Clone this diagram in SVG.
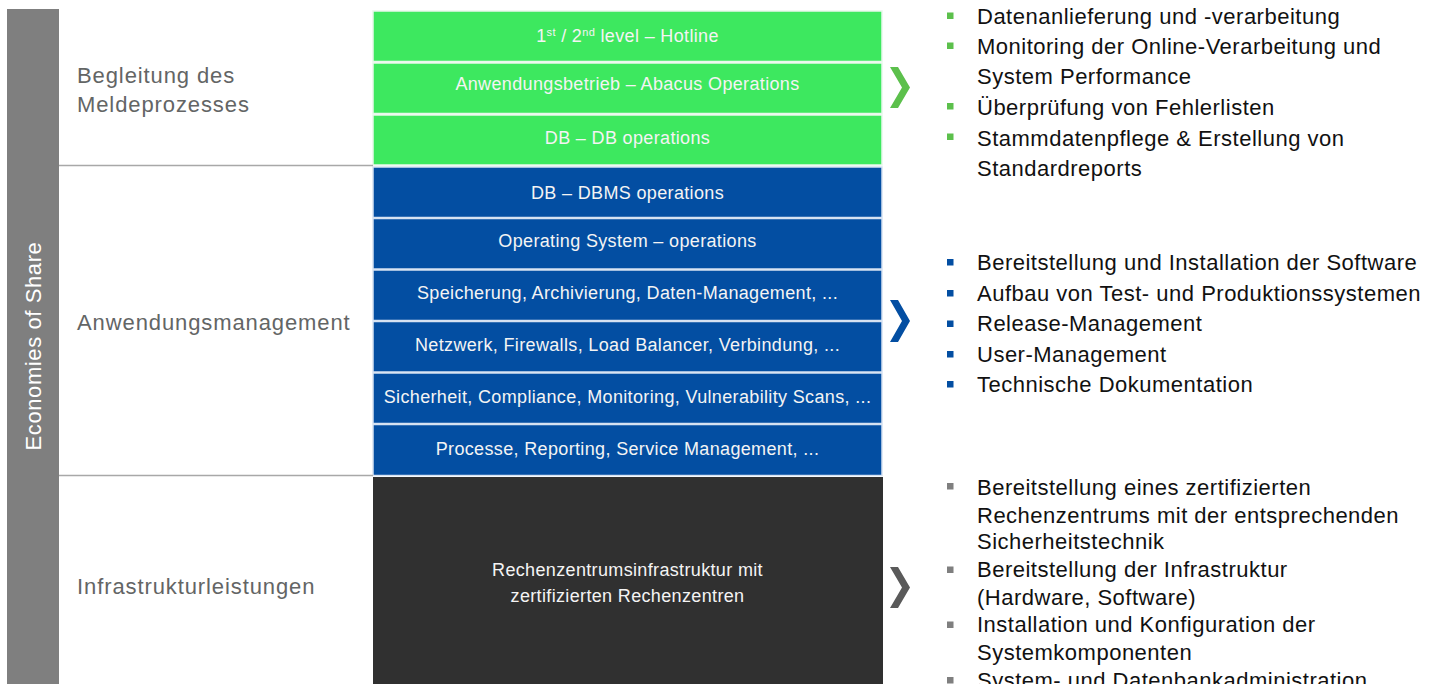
<svg xmlns="http://www.w3.org/2000/svg" width="1438" height="684" viewBox="0 0 1438 684">
<style>
.lbl{font-family:"Liberation Sans",Arial,sans-serif;font-size:22px;letter-spacing:0.9px;fill:#636565}
.blk{font-family:"Liberation Sans",Arial,sans-serif;font-size:18px;letter-spacing:0.35px;fill:#f4f4f4;text-anchor:middle}
.li{font-family:"Liberation Sans",Arial,sans-serif;font-size:22px;letter-spacing:0.5px;fill:#111}
.g{fill:#3de85f;stroke:#e8f8ec;stroke-width:1.5}
.b{fill:#034ea2;stroke:#d6e2f2;stroke-width:1.5}
.d{fill:#303030}
.sep{stroke:#a8a8a8;stroke-width:1.5}
.bg{fill:#5cc04c}
.bb{fill:#034ea2}
.bk{fill:#7f7f7f}
</style>
<rect width="1438" height="684" fill="#fff"/>
<g id="side">
<rect x="7" y="9" width="52" height="675" fill="#7f7f7f"/>
<text transform="translate(41,346) rotate(-90)" text-anchor="middle" style="font-family:'Liberation Sans',Arial,sans-serif;font-size:22px;letter-spacing:0.6px;fill:#fff">Economies of Share</text>
</g>
<g id="labels">
<text class="lbl" x="77" y="83">Begleitung des</text>
<text class="lbl" x="77" y="112">Meldeprozesses</text>
<text class="lbl" x="77" y="330">Anwendungsmanagement</text>
<text class="lbl" x="77" y="594">Infrastrukturleistungen</text>
</g>
<g id="green-stack">
<rect class="g" x="373" y="11" width="509" height="50.5"/>
<rect class="g" x="373" y="63" width="509" height="50.5"/>
<rect class="g" x="373" y="115" width="509" height="50"/>
<text class="blk" x="627.5" y="42">1<tspan font-size="11" dy="-6">st</tspan><tspan dy="6"> / 2</tspan><tspan font-size="11" dy="-6">nd</tspan><tspan dy="6"> level – Hotline</tspan></text>
<text class="blk" x="627.5" y="90">Anwendungsbetrieb – Abacus Operations</text>
<text class="blk" x="627.5" y="144">DB – DB operations</text>
</g>
<g id="blue-stack">
<rect class="b" x="373" y="167" width="509" height="50.5"/>
<rect class="b" x="373" y="218.5" width="509" height="50.5"/>
<rect class="b" x="373" y="270" width="509" height="50.5"/>
<rect class="b" x="373" y="321.5" width="509" height="50.5"/>
<rect class="b" x="373" y="373" width="509" height="50.5"/>
<rect class="b" x="373" y="424.5" width="509" height="51"/>
<text class="blk" x="627.5" y="199">DB – DBMS operations</text>
<text class="blk" x="627.5" y="247">Operating System – operations</text>
<text class="blk" x="627.5" y="299">Speicherung, Archivierung, Daten-Management, ...</text>
<text class="blk" x="627.5" y="351">Netzwerk, Firewalls, Load Balancer, Verbindung, ...</text>
<text class="blk" x="627.5" y="403">Sicherheit, Compliance, Monitoring, Vulnerability Scans, ...</text>
<text class="blk" x="627.5" y="455">Processe, Reporting, Service Management, ...</text>
</g>
<g id="dark-stack">
<rect class="d" x="373" y="477" width="510" height="207"/>
<text class="blk" x="627.5" y="576">Rechenzentrumsinfrastruktur mit</text>
<text class="blk" x="627.5" y="602">zertifizierten Rechenzentren</text>
</g>
<g id="connectors">
<line class="sep" x1="59" y1="165.5" x2="373" y2="165.5"/>
<line class="sep" x1="59" y1="475.5" x2="373" y2="475.5"/>
<polygon points="890,67 898,67 910,87.5 898,108 890,108 902,87.5" fill="#5cc04c"/>
<polygon points="890,300 898,300 910,321 898,342 890,342 902,321" fill="#034ea2"/>
<polygon points="890,567 898,567 910,587.5 898,608 890,608 902,587.5" fill="#5a5a5a"/>
</g>
<g id="list-green">
<rect class="bg" x="947" y="12.5" width="6.5" height="6.5"/>
<rect class="bg" x="947" y="42.5" width="6.5" height="6.5"/>
<rect class="bg" x="947" y="103" width="6.5" height="6.5"/>
<rect class="bg" x="947" y="133.5" width="6.5" height="6.5"/>
<text class="li" x="977" y="23.5">Datenanlieferung und -verarbeitung</text>
<text class="li" x="977" y="54">Monitoring der Online-Verarbeitung und</text>
<text class="li" x="977" y="83.5">System Performance</text>
<text class="li" x="977" y="115">Überprüfung von Fehlerlisten</text>
<text class="li" x="977" y="145.5">Stammdatenpflege &amp; Erstellung von</text>
<text class="li" x="977" y="175.5">Standardreports</text>
</g>
<g id="list-blue">
<rect class="bb" x="947" y="259" width="6.5" height="6.5"/>
<rect class="bb" x="947" y="290" width="6.5" height="6.5"/>
<rect class="bb" x="947" y="320.5" width="6.5" height="6.5"/>
<rect class="bb" x="947" y="351" width="6.5" height="6.5"/>
<rect class="bb" x="947" y="381" width="6.5" height="6.5"/>
<text class="li" x="977" y="270">Bereitstellung und Installation der Software</text>
<text class="li" x="977" y="301">Aufbau von Test- und Produktionssystemen</text>
<text class="li" x="977" y="331">Release-Management</text>
<text class="li" x="977" y="362">User-Management</text>
<text class="li" x="977" y="392">Technische Dokumentation</text>
</g>
<g id="list-gray">
<rect class="bk" x="947" y="483" width="6.5" height="6.5"/>
<rect class="bk" x="947" y="566.5" width="6.5" height="6.5"/>
<rect class="bk" x="947" y="621.5" width="6.5" height="6.5"/>
<rect class="bk" x="947" y="677" width="6.5" height="6.5"/>
<text class="li" x="977" y="495">Bereitstellung eines zertifizierten</text>
<text class="li" x="977" y="522.5">Rechenzentrums mit der entsprechenden</text>
<text class="li" x="977" y="549">Sicherheitstechnik</text>
<text class="li" x="977" y="577">Bereitstellung der Infrastruktur</text>
<text class="li" x="977" y="605">(Hardware, Software)</text>
<text class="li" x="977" y="632">Installation und Konfiguration der</text>
<text class="li" x="977" y="660">Systemkomponenten</text>
<text class="li" x="977" y="688">System- und Datenbankadministration</text>
</g>
</svg>
